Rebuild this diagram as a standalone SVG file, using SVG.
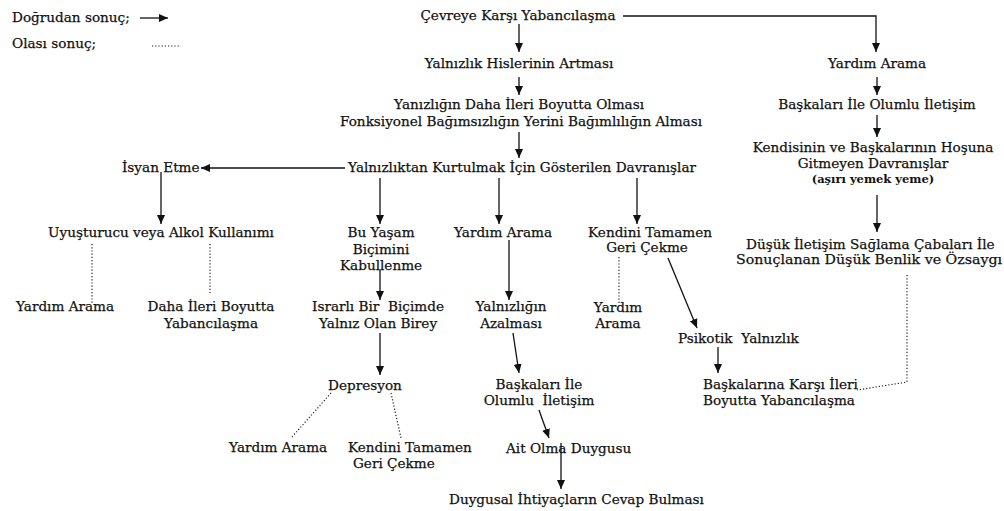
<svg xmlns="http://www.w3.org/2000/svg" width="1004" height="511" viewBox="0 0 1004 511">
<style>
text{font-family:"DejaVu Serif","Liberation Serif",serif;font-size:13.6px;fill:#111;stroke:#111;stroke-width:0.25;white-space:pre}
.m{text-anchor:middle}
.sm{font-size:11.5px;font-weight:bold;stroke-width:0}
.ln{stroke:#111;stroke-width:1.3;fill:none}
.ar{marker-end:url(#ah)}
.dt{stroke:#222;stroke-width:1.2;fill:none;stroke-dasharray:1.2 2}
</style>
<defs>
<marker id="ah" markerUnits="userSpaceOnUse" markerWidth="10" markerHeight="10" viewBox="0 0 10 10" refX="9" refY="5" orient="auto">
<path d="M0,1 L9,5 L0,9 Z" fill="#111"/>
</marker>
</defs>
<rect width="1004" height="511" fill="#fff"/>
<g id="legend">
<text x="12" y="22">Doğrudan sonuç;</text>
<line class="ln ar" x1="140" y1="18" x2="168" y2="18"/>
<text x="12" y="48">Olası sonuç;</text>
<line class="dt" x1="152" y1="46" x2="181" y2="46"/>
</g>
<g id="connectors">
<polyline class="ln ar" points="623,16 876,16 876,52"/>
<line class="ln ar" x1="519" y1="24" x2="519" y2="52"/>
<line class="ln ar" x1="519" y1="77" x2="519" y2="95"/>
<line class="ln ar" x1="877" y1="77" x2="877" y2="95"/>
<line class="ln ar" x1="877" y1="115" x2="877" y2="137"/>
<line class="ln ar" x1="519" y1="132" x2="519" y2="158"/>
<line class="ln ar" x1="345" y1="168" x2="201" y2="168"/>
<line class="ln ar" x1="161" y1="172" x2="161" y2="224"/>
<line class="ln ar" x1="380" y1="178" x2="380" y2="224"/>
<line class="ln ar" x1="499" y1="178" x2="499" y2="224"/>
<line class="ln ar" x1="637" y1="178" x2="637" y2="224"/>
<line class="ln ar" x1="877" y1="195" x2="877" y2="232"/>
<line class="dt" x1="92" y1="244" x2="92" y2="303"/>
<line class="dt" x1="210" y1="244" x2="210" y2="293"/>
<line class="dt" x1="619" y1="257" x2="619" y2="303"/>
<line class="ln ar" x1="380" y1="270" x2="380" y2="300"/>
<line class="ln ar" x1="509" y1="240" x2="509" y2="300"/>
<line class="ln ar" x1="668" y1="258" x2="697" y2="328"/>
<line class="ln ar" x1="380" y1="333" x2="380" y2="375"/>
<line class="ln ar" x1="513" y1="333" x2="519" y2="373"/>
<line class="ln ar" x1="718" y1="347" x2="718" y2="373"/>
<polyline class="dt" points="907,275 907,382 857,390"/>
<line class="dt" x1="331" y1="393" x2="292" y2="437"/>
<line class="dt" x1="391" y1="393" x2="401" y2="438"/>
<line class="ln ar" x1="539" y1="410" x2="549" y2="438"/>
<line class="ln ar" x1="561" y1="443" x2="561" y2="489"/>
</g>
<g id="n-cevreye"><text class="m" x="518" y="20">Çevreye Karşı Yabancılaşma</text></g>
<g id="n-yalnizlik-hisleri"><text class="m" x="519" y="68">Yalnızlık Hislerinin Artması</text></g>
<g id="n-daha-ileri"><text class="m" x="519" y="109">Yanızlığın Daha İleri Boyutta Olması</text><text class="m" x="521" y="126">Fonksiyonel Bağımsızlığın Yerini Bağımlılığın Alması</text></g>
<g id="n-kurtulmak"><text class="m" x="522" y="172">Yalnızlıktan Kurtulmak İçin Gösterilen Davranışlar</text></g>
<g id="n-isyan"><text x="122" y="172">İsyan Etme</text></g>
<g id="n-uyusturucu"><text class="m" x="161" y="237">Uyuşturucu veya Alkol Kullanımı</text></g>
<g id="n-yardim1"><text class="m" x="65" y="311">Yardım Arama</text></g>
<g id="n-yabancilasma1"><text class="m" x="211" y="311">Daha İleri Boyutta</text><text class="m" x="211" y="328">Yabancılaşma</text></g>
<g id="n-kabullenme"><text class="m" x="381" y="237">Bu Yaşam</text><text class="m" x="381" y="254">Biçimini</text><text class="m" x="381" y="270">Kabullenme</text></g>
<g id="n-israrli"><text class="m" x="378" y="311">Israrlı Bir  Biçimde</text><text class="m" x="378" y="328">Yalnız Olan Birey</text></g>
<g id="n-depresyon"><text class="m" x="365" y="390">Depresyon</text></g>
<g id="n-yardim2"><text x="229" y="452">Yardım Arama</text></g>
<g id="n-geri2"><text x="348" y="452">Kendini Tamamen</text><text x="353" y="468">Geri Çekme</text></g>
<g id="n-yardim3"><text class="m" x="503" y="237">Yardım Arama</text></g>
<g id="n-azalmasi"><text class="m" x="511" y="311">Yalnızlığın</text><text class="m" x="511" y="328">Azalması</text></g>
<g id="n-olumlu1"><text class="m" x="539" y="389">Başkaları İle</text><text class="m" x="539" y="405">Olumlu  İletişim</text></g>
<g id="n-ait"><text x="506" y="453">Ait Olma Duygusu</text></g>
<g id="n-duygusal"><text x="449" y="504">Duygusal İhtiyaçların Cevap Bulması</text></g>
<g id="n-geri1"><text class="m" x="650" y="237">Kendini Tamamen</text><text class="m" x="647" y="252">Geri Çekme</text></g>
<g id="n-yardim4"><text class="m" x="618" y="312">Yardım</text><text class="m" x="618" y="328">Arama</text></g>
<g id="n-psikotik"><text x="678" y="343">Psikotik  Yalnızlık</text></g>
<g id="n-ileri"><text x="703" y="389">Başkalarına Karşı İleri</text><text x="703" y="405">Boyutta Yabancılaşma</text></g>
<g id="n-yardim5"><text class="m" x="877" y="68">Yardım Arama</text></g>
<g id="n-olumlu2"><text class="m" x="877" y="109">Başkaları İle Olumlu İletişim</text></g>
<g id="n-hosuna"><text class="m" x="873" y="152">Kendisinin ve Başkalarının Hoşuna</text><text class="m" x="873" y="168">Gitmeyen Davranışlar</text><text class="m sm" x="873" y="183">(aşırı yemek yeme)</text></g>
<g id="n-dusuk"><text x="746" y="249">Düşük İletişim Sağlama Çabaları İle</text><text x="736" y="264" textLength="266" lengthAdjust="spacingAndGlyphs">Sonuçlanan Düşük Benlik ve Özsaygı</text></g>
</svg>
